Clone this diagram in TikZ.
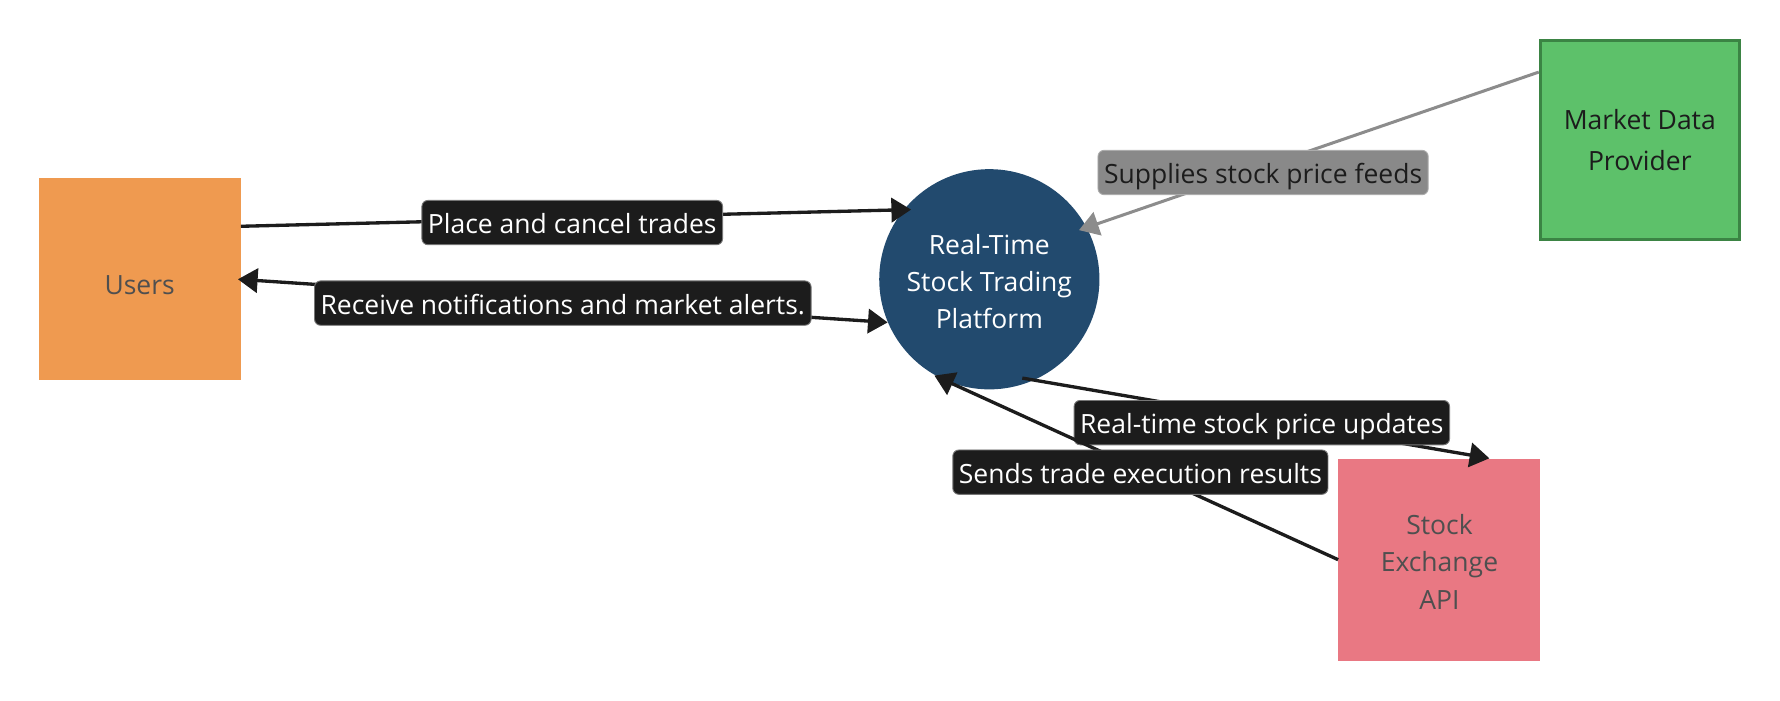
\documentclass[tikz,border=0pt]{standalone}
\usepackage{fontspec}
\setmainfont{Open Sans}
\usetikzlibrary{arrows.meta,calc}
\definecolor{usersfill}{HTML}{EF9A50}
\definecolor{platfill}{HTML}{224A6E}
\definecolor{mdpfill}{HTML}{5DC16A}
\definecolor{mdpborder}{HTML}{3B8444}
\definecolor{seafill}{HTML}{E97883}
\definecolor{lblbg}{HTML}{1C1C1C}
\definecolor{lblgray}{HTML}{898989}
\definecolor{txtgray}{HTML}{4F4F4F}
\definecolor{edgegray}{HTML}{8C8C8C}
\newcommand{\dfont}{\fontsize{17.5}{24.75}\selectfont}
\begin{document}
\begin{tikzpicture}[x=0.75pt,y=-0.75pt,
  entity/.style={rectangle, minimum width=133.5pt, minimum height=133.5pt, align=center, font=\dfont, inner sep=0pt},
  lbl/.style={fill=lblbg, draw=lblbg!60!white, line width=0.6pt, rounded corners=4pt, text=white, inner xsep=4pt, inner ysep=4pt, text height=18pt, text depth=3.3pt, font=\dfont},
  glbl/.style={lbl, fill=lblgray, draw=lblgray!70!white, text=lblbg},
  edge/.style={draw=lblbg, line width=2.2pt, -{Triangle[length=13pt,width=16pt]}},
  gedge/.style={draw=edgegray, line width=2pt, -{Triangle[length=13pt,width=16pt]}}
]
\useasboundingbox (0,0) rectangle (1568,617);
\node[entity, fill=usersfill, text=txtgray, text height=20pt, text depth=0pt] (users) at (123,246) {Users};
\node[circle, fill=platfill, minimum size=145.5pt, inner sep=0pt, align=center, text=white, font=\dfont] (plat) at (871.5,246) {\rule{0pt}{16.3pt}Real-Time\\Stock Trading\\Platform};
\node[entity, fill=mdpfill, draw=mdpborder, line width=2pt, minimum width=131.5pt, minimum height=131.5pt, text=lblbg] (mdp) at (1444.5,123.5) {Market Data\\[2pt]Provider};
\node[entity, fill=seafill, text=txtgray] (sea) at (1268,493) {\rule{0pt}{16pt}Stock\\Exchange\\API};

\draw[edge, shorten >=-5pt] ([yshift=35pt]users.east) -- node[lbl, pos=0.5, yshift=-3pt] (l1) {Place and cancel trades} (plat.141);
\draw[edge, {Triangle[length=13pt,width=16pt]}-{Triangle[length=13pt,width=16pt]}] ([xshift=-2pt]users.east) -- node[lbl, pos=0.5, yshift=-1.5pt] (l2) {Receive notifications and market alerts.} (plat.203);
\draw[gedge, shorten >=-5.5pt] ([yshift=45pt]mdp.west) -- node[glbl, pos=0.61, yshift=-3.75pt] (l3) {Supplies stock price feeds} (plat.28.5);
\draw[edge, shorten <=-8pt] (plat.-66) -- node[lbl, pos=0.5, yshift=-2.25pt] (l4) {Real-time stock price updates} ([xshift=33pt]sea.north);
\draw[edge, shorten >=-6pt] (sea.west) -- node[lbl, pos=0.5, yshift=-1.75pt] (l5) {Sends trade execution results} (plat.-115);
\end{tikzpicture}
\end{document}
